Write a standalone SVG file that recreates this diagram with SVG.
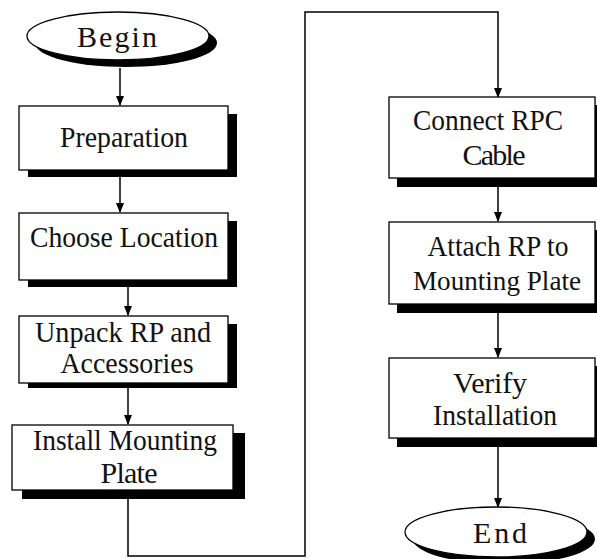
<svg xmlns="http://www.w3.org/2000/svg" width="597" height="559" viewBox="0 0 597 559">
<style>
.box{fill:#fff;stroke:#000;stroke-width:1.3}
.sh{fill:#000}
.t{font-family:"Liberation Serif","Times New Roman",serif;font-size:30px;fill:#111;text-anchor:middle}
.c{fill:none;stroke:#000;stroke-width:1.5}
</style>
<defs>
<marker id="ah" markerWidth="10" markerHeight="10" refX="9" refY="5" orient="auto" markerUnits="userSpaceOnUse">
<path d="M0,1 L10,5 L0,9 Z" fill="#000"/>
</marker>
</defs>
<rect width="597" height="559" fill="#fff"/>
<g id="connectors">
<path class="c" d="M120,68 V105" marker-end="url(#ah)"/>
<path class="c" d="M120,177 V212" marker-end="url(#ah)"/>
<path class="c" d="M128,287 V315" marker-end="url(#ah)"/>
<path class="c" d="M128,388 V424" marker-end="url(#ah)"/>
<path class="c" d="M128,499 V556 H305 V12 H498 V97" marker-end="url(#ah)"/>
<path class="c" d="M498,172 V221" marker-end="url(#ah)"/>
<path class="c" d="M498,313 V357" marker-end="url(#ah)"/>
<path class="c" d="M498,447 V507" marker-end="url(#ah)"/>
</g>
<g id="begin">
<ellipse class="sh" cx="126" cy="43" rx="91" ry="24"/>
<ellipse class="box" cx="118" cy="36" rx="91" ry="24"/>
<text class="t" x="117" y="47" textLength="80">Begin</text>
</g>
<g id="preparation">
<rect class="sh" x="28" y="114" width="209" height="63"/>
<rect class="box" x="19" y="106" width="209" height="64"/>
<text class="t" x="124" y="147" textLength="128" lengthAdjust="spacingAndGlyphs">Preparation</text>
</g>
<g id="choose">
<rect class="sh" x="28" y="221" width="209" height="66"/>
<rect class="box" x="19" y="213" width="209" height="67"/>
<text class="t" x="124" y="247" textLength="188" lengthAdjust="spacingAndGlyphs">Choose Location</text>
</g>
<g id="unpack">
<rect class="sh" x="28" y="324" width="209" height="64"/>
<rect class="box" x="19" y="316" width="209" height="67"/>
<text class="t" x="123" y="342" textLength="176" lengthAdjust="spacingAndGlyphs">Unpack RP and</text>
<text class="t" x="127" y="373" textLength="133" lengthAdjust="spacingAndGlyphs">Accessories</text>
</g>
<g id="install">
<rect class="sh" x="22" y="433" width="223" height="66"/>
<rect class="box" x="12" y="425" width="221" height="65"/>
<text class="t" x="125" y="450" textLength="184" lengthAdjust="spacingAndGlyphs">Install Mounting</text>
<text class="t" x="129" y="483" textLength="57">Plate</text>
</g>
<g id="connect">
<rect class="sh" x="397" y="105" width="200" height="82"/>
<rect class="box" x="389" y="97" width="206" height="81"/>
<text class="t" x="488" y="130" textLength="150" lengthAdjust="spacingAndGlyphs">Connect RPC</text>
<text class="t" x="494" y="165" textLength="63">Cable</text>
</g>
<g id="attach">
<rect class="sh" x="397" y="230" width="200" height="83"/>
<rect class="box" x="389" y="222" width="206" height="82"/>
<text class="t" x="498" y="256" textLength="141" lengthAdjust="spacingAndGlyphs">Attach RP to</text>
<text class="t" x="497" y="290" style="font-size:28px" textLength="168" lengthAdjust="spacingAndGlyphs">Mounting Plate</text>
</g>
<g id="verify">
<rect class="sh" x="397" y="366" width="200" height="81"/>
<rect class="box" x="389" y="358" width="206" height="80"/>
<text class="t" x="490" y="393" textLength="74">Verify</text>
<text class="t" x="495" y="425" textLength="124" lengthAdjust="spacingAndGlyphs">Installation</text>
</g>
<g id="end">
<ellipse class="sh" cx="504" cy="539" rx="91" ry="25"/>
<ellipse class="box" cx="496" cy="532" rx="91" ry="25"/>
<text class="t" x="500" y="543" textLength="54">End</text>
</g>
</svg>
